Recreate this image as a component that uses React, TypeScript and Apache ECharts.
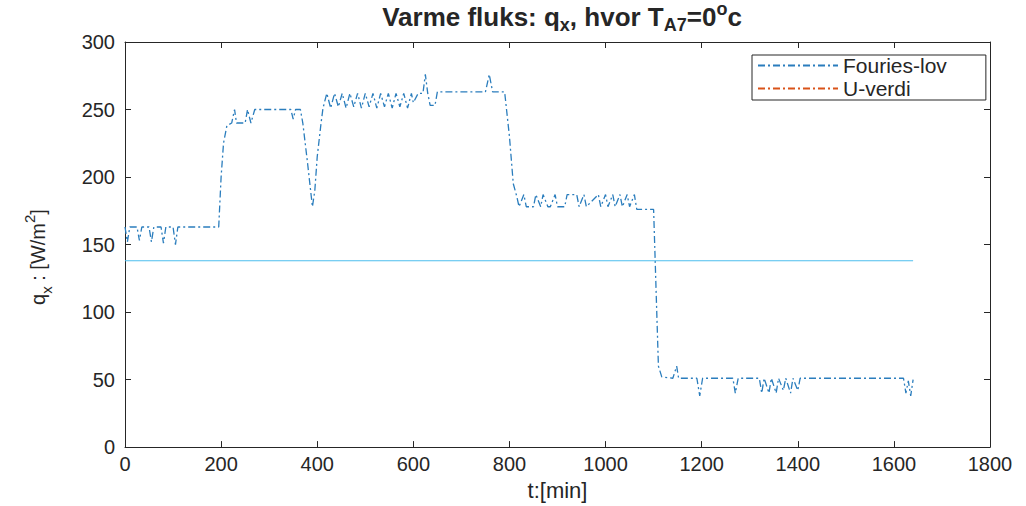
import React, { useEffect, useRef } from "react";
import * as echarts from "echarts";

const timeMin = [
  0, 5, 10, 25, 30, 35, 50, 55, 60, 75, 80, 85, 100, 105, 110, 190, 195,
  200, 205, 212, 222, 228, 232, 250, 255, 262, 270, 345, 350, 355, 365, 370, 380, 390, 395, 400, 408, 412,
  420, 428, 436, 444, 452, 460, 468, 476, 484, 492, 500, 508, 516, 524, 532, 540, 548, 556, 564, 572, 580, 588, 596,
  600, 610, 620, 625, 630, 635, 645, 650, 750, 758, 765, 790, 800, 808, 815,
  820, 830, 835, 850, 855, 865, 870, 880, 885, 895, 900, 915, 920, 940, 945, 955, 960, 985, 990, 1000, 1005, 1015, 1020, 1030, 1035, 1045, 1050, 1060, 1065, 1075, 1092, 1100, 1110, 1117,
  1140, 1148, 1152, 1190, 1196, 1202, 1265, 1270, 1276, 1320, 1325, 1330, 1340, 1345, 1355, 1360, 1370, 1375, 1385, 1390, 1400, 1405, 1620, 1625, 1630, 1635, 1640,
];

const fluxFourier = [
  163, 152, 163, 163, 153, 163, 163, 152, 163, 163, 151, 163, 163, 150, 163, 163, 163,
  200, 225, 238, 240, 250, 240, 240, 250, 240, 250, 250, 243, 250, 250, 240, 210, 178, 190, 215, 240, 251,
  262, 251, 262, 252, 262, 251, 262, 252, 262, 251, 262, 252, 262, 251, 262, 252, 262, 251, 262, 252, 262, 251, 262,
  255, 262, 262, 276, 262, 253, 253, 263, 263, 276, 263, 263, 230, 195, 186,
  178, 187, 178, 178, 187, 178, 187, 178, 178, 187, 178, 178, 187, 187, 178, 187, 178, 187, 178, 187, 178, 187, 178, 187, 178, 187, 178, 187, 176, 176, 176, 176, 60, 52,
  51, 60, 51, 51, 38, 51, 51, 40, 51, 51, 40, 51, 40, 51, 40, 51, 42, 51, 40, 51, 42, 51, 51, 40, 49, 38, 50,
];

const uValueTime = [0, 1640];
const uValue = [138, 138];

const xTicks = [0, 200, 400, 600, 800, 1000, 1200, 1400, 1600, 1800];
const yTicks = [0, 50, 100, 150, 200, 250, 300];

const FONT = "'Liberation Sans', Arial, Helvetica, sans-serif";
const AX = "#262626";

export default function App() {
  const ref = useRef<HTMLDivElement>(null);
  useEffect(() => {
    if (!ref.current) return;
    const chart = echarts.init(ref.current, undefined, { renderer: "svg" });
    const fourierData = timeMin.map((t, i) => [t, fluxFourier[i]]);
    const uData = uValueTime.map((t, i) => [t, uValue[i]]);
    const xStep = xTicks[1] - xTicks[0];
    const yStep = yTicks[1] - yTicks[0];
    const axisCommon = {
      axisLine: { show: true, onZero: false, lineStyle: { color: AX, width: 1 } },
      axisTick: { show: true, inside: true, length: 6, lineStyle: { color: AX } },
      splitLine: { show: false },
    };
    const fmt = (v: number) => String(v);
    chart.setOption({
      animation: false,
      backgroundColor: "#ffffff",
      textStyle: { fontFamily: FONT },
      grid: { left: 125, right: 36, top: 42, bottom: 50, containLabel: false },
      xAxis: [
        {
          type: "value",
          min: xTicks[0],
          max: xTicks[xTicks.length - 1],
          interval: xStep,
          ...axisCommon,
          axisLabel: { color: AX, fontSize: 20, fontFamily: FONT, margin: 7, formatter: fmt },
          name: "t:[min]",
          nameLocation: "middle",
          nameGap: 31,
          nameTextStyle: { color: AX, fontSize: 22, fontFamily: FONT },
        },
        {
          type: "value",
          position: "top",
          min: xTicks[0],
          max: xTicks[xTicks.length - 1],
          interval: xStep,
          ...axisCommon,
          axisLabel: { show: false },
        },
      ],
      yAxis: [
        {
          type: "value",
          min: yTicks[0],
          max: yTicks[yTicks.length - 1],
          interval: yStep,
          ...axisCommon,
          axisLabel: { color: AX, fontSize: 20, fontFamily: FONT, margin: 10, formatter: fmt },
        },
        {
          type: "value",
          position: "right",
          min: yTicks[0],
          max: yTicks[yTicks.length - 1],
          interval: yStep,
          ...axisCommon,
          axisLabel: { show: false },
        },
      ],
      title: {
        text: "Varme fluks: q{sub|x}, hvor T{sub|A7}=0{sup|o}c",
        left: 562,
        textAlign: "center",
        top: 0,
        padding: 0,
        textStyle: {
          fontFamily: FONT,
          fontWeight: "bold",
          fontSize: 26,
          color: AX,
          lineHeight: 34,
          rich: {
            sub: { fontFamily: FONT, fontWeight: "bold", fontSize: 18, color: AX, verticalAlign: "bottom", lineHeight: 34 },
            sup: { fontFamily: FONT, fontWeight: "bold", fontSize: 18, color: AX, verticalAlign: "top", lineHeight: 34 },
          },
        },
      },
      legend: {
        orient: "vertical",
        left: 752,
        top: 55,
        data: ["Fouries-lov", "U-verdi"],
        itemWidth: 80,
        itemHeight: 12,
        itemGap: 2,
        padding: [0, 39, 1, 5],
        borderColor: AX,
        borderWidth: 1,
        backgroundColor: "#ffffff",
        borderRadius: 0,
        itemStyle: { opacity: 0 },
        textStyle: { color: AX, fontSize: 21, lineHeight: 18, fontFamily: FONT },
      },
      graphic: [
        {
          type: "text",
          x: 38,
          y: 257,
          rotation: Math.PI / 2,
          style: {
            text: "q{sub|x} : [W/m{sup|2}]",
            fill: AX,
            fontSize: 20,
            fontFamily: FONT,
            align: "center",
            verticalAlign: "middle",
            lineHeight: 32,
            rich: {
              sub: { fontSize: 15, fontFamily: FONT, fill: AX, verticalAlign: "bottom", lineHeight: 32 },
              sup: { fontSize: 15, fontFamily: FONT, fill: AX, verticalAlign: "top", lineHeight: 32 },
            },
          },
        },
      ],
      series: [
        {
          name: "Fouries-lov",
          type: "line",
          xAxisIndex: 0,
          yAxisIndex: 0,
          data: fourierData,
          showSymbol: false,
          symbol: "none",
          lineStyle: { color: "#2a7dbd", width: 1.3, type: [7, 3, 2, 3] },
          itemStyle: { color: "#2a7dbd" },
        },
        {
          name: "U-verdi",
          type: "line",
          xAxisIndex: 0,
          yAxisIndex: 0,
          data: [],
          symbol: "none",
          lineStyle: { color: "#D95319", width: 1.3, type: [7, 3, 2, 3] },
          itemStyle: { color: "#D95319" },
        },
        {
          name: "U-linje",
          type: "line",
          xAxisIndex: 0,
          yAxisIndex: 0,
          data: uData,
          symbol: "none",
          lineStyle: { color: "#4DBEEE", width: 1.2, type: "solid" },
          itemStyle: { color: "#4DBEEE" },
        },
      ],
    });
    return () => chart.dispose();
  }, []);
  return (
    <div
      ref={ref}
      style={{ position: "fixed", left: 0, top: 0, width: 1026, height: 506 }}
    />
  );
}
